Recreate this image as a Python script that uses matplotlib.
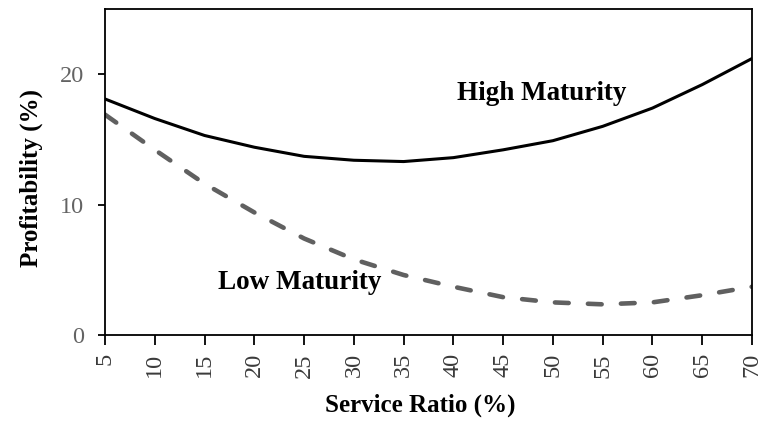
import matplotlib.pyplot as plt

service_ratio = [5, 10, 15, 20, 25, 30, 35, 40, 45, 50, 55, 60, 65, 70]
high_maturity = [18.1, 16.6, 15.3, 14.4, 13.7, 13.4, 13.3, 13.6, 14.2, 14.9, 16.0, 17.4, 19.2, 21.2]
low_maturity = [16.9, 14.2, 11.6, 9.4, 7.4, 5.8, 4.6, 3.7, 2.9, 2.5, 2.35, 2.5, 3.05, 3.7]

plt.rcParams['font.family'] = ['Liberation Serif', 'DejaVu Serif']

fig = plt.figure(figsize=(7.67, 4.22), dpi=100)
ax = fig.add_axes([0.1369, 0.2062, 0.9804 - 0.1369, 0.9787 - 0.2062])

ax.plot(service_ratio, high_maturity, color='black', lw=2.2)
ax.plot(service_ratio, low_maturity, color='#606060', lw=3.3, dashes=(3, 4.2), dash_capstyle='round')

ax.set_xlim(5, 70)
ax.set_ylim(0, 25)
ax.set_xticks(service_ratio)
ax.set_yticks([0, 10, 20])
ax.tick_params(axis='x', labelrotation=90, labelsize=17.5, labelcolor='#3a3a3a', length=7, width=1.3, pad=6)
ax.tick_params(axis='y', labelsize=17.5, labelcolor='#636363', length=5, width=1.3, pad=10)
for s in ax.spines.values():
    s.set_linewidth(1.3)

ax.set_xlabel('Service Ratio (%)', fontsize=18, fontweight='bold', va='center', ha='center')
ax.xaxis.set_label_coords(0.487, -0.2147)
ax.set_ylabel('Profitability (%)', fontsize=18, fontweight='bold', va='center', ha='center')
ax.yaxis.set_label_coords(-0.114, 0.4816)

ax.text(48.9, 18.5, 'High Maturity', fontsize=19.5, fontweight='bold', ha='center', va='center')
ax.text(24.6, 4.0, 'Low Maturity', fontsize=19.5, fontweight='bold', ha='center', va='center')

fig.savefig('out.png', dpi=100)
